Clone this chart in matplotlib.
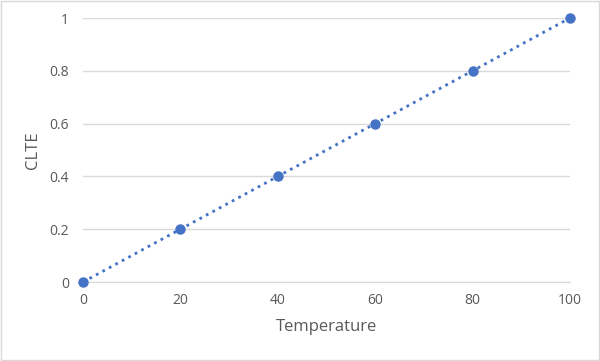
import matplotlib
matplotlib.use("Agg")
import matplotlib.pyplot as plt
from matplotlib.patches import Rectangle

temperature = [0, 20, 40, 60, 80, 100]
clte = [0, 0.2, 0.4, 0.6, 0.8, 1.0]
xticks = [0, 20, 40, 60, 80, 100]
yticks = [0, 0.2, 0.4, 0.6, 0.8, 1]
ytick_labels = ["0", "0.2", "0.4", "0.6", "0.8", "1"]

plt.rcParams['font.family'] = ['Open Sans', 'DejaVu Sans']
fig = plt.figure(figsize=(6.0, 3.61), dpi=100)
fig.patches.append(Rectangle((0.002, 0.003), 0.996, 0.994, transform=fig.transFigure,
                             fill=False, edgecolor='#d9d9d9', linewidth=1.0))
ax = fig.add_axes([83/600, (361-282)/361, (570-83)/600, (282-18)/361])
color = '#4472C4'
ax.plot(temperature, clte, linestyle=':', color=color, linewidth=2.0,
        marker='o', markersize=6.5, markerfacecolor=color, markeredgecolor=color, zorder=3)
ax.set_xlim(0, 100)
ax.set_ylim(0, 1)
ax.set_xticks(xticks)
ax.set_yticks(yticks)
ax.set_yticklabels(ytick_labels)
ax.grid(axis='y', color='#d9d9d9', linewidth=1.0)
ax.set_axisbelow(True)
for s in ['top', 'right', 'left']:
    ax.spines[s].set_visible(False)
ax.spines['bottom'].set_color('#d9d9d9')
ax.tick_params(axis='both', length=0, colors='#595959', labelsize=10)
ax.tick_params(axis='y', pad=10)
ax.tick_params(axis='x', pad=8)
ax.set_xlabel('Temperature', fontsize=12, color='#595959', labelpad=8)
ax.set_ylabel('CLTE', fontsize=12, color='#595959', labelpad=6)
for sp in ax.spines.values():
    sp.set_clip_on(False)
for l in ax.get_lines():
    l.set_clip_on(False)
fig.savefig('out.png', dpi=100)
